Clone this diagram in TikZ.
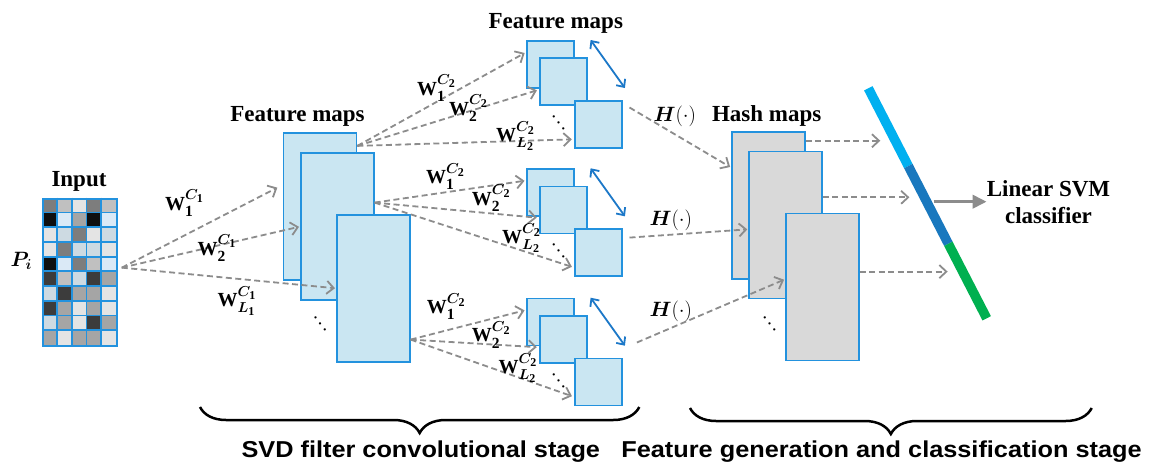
\documentclass[tikz,border=0pt]{standalone}
\usepackage{fontspec}
\setmainfont{Liberation Serif}
\newfontfamily\stagefont[FakeStretch=1.1]{Liberation Sans}
\usepackage{amsmath}
\usepackage{bm}
\usetikzlibrary{arrows.meta,positioning,calc,decorations.pathreplacing}
\DeclareMathSizes{20}{20}{15.5}{12}

\definecolor{mapblue}{RGB}{35,146,222}
\definecolor{mapfill}{RGB}{202,230,242}
\definecolor{hashfill}{RGB}{217,217,217}
\definecolor{arrgray}{RGB}{140,140,140}
\definecolor{twoway}{RGB}{28,120,200}
\definecolor{svmA}{RGB}{0,176,240}
\definecolor{svmB}{RGB}{25,120,190}
\definecolor{svmC}{RGB}{0,176,80}
\definecolor{cell0}{RGB}{15,15,15}
\definecolor{cell1}{RGB}{60,60,60}
\definecolor{cell2}{RGB}{125,125,125}
\definecolor{cell3}{RGB}{165,165,165}
\definecolor{cell4}{RGB}{192,192,192}
\definecolor{cell5}{RGB}{205,218,226}
\definecolor{cell6}{RGB}{228,228,228}
\definecolor{cell7}{RGB}{218,233,246}

\newcommand{\wl}[2]{$\mathbf{W}_{#1}^{\bm{C}_{\mathbf{#2}}}$}

\begin{document}
\begin{tikzpicture}[x=1pt,y=-1pt,
    fmap/.style={draw=mapblue,fill=mapfill,line width=1.6pt,inner sep=0pt,anchor=north west,
                 minimum width=73pt,minimum height=147pt},
    hmap/.style={fmap,fill=hashfill},
    smap/.style={fmap,minimum width=47pt,minimum height=47pt},
    flow/.style={arrgray,line width=1.8pt,dash pattern=on 6pt off 3.5pt,
                 -{Straight Barb[length=7pt,width=13pt]},shorten >=1pt},
    both/.style={twoway,line width=1.8pt,
                 {Straight Barb[length=6pt,width=11pt]}-{Straight Barb[length=6pt,width=11pt]}},
    title/.style={font=\fontsize{23}{26.7}\selectfont\bfseries},
    wlab/.style={anchor=base west,inner sep=0pt,font=\fontsize{20}{20}\selectfont},
    mdots/.style={font=\fontsize{19}{19}\selectfont,rotate=-28,inner sep=0pt},
    stage/.style={anchor=base,font=\stagefont\fontsize{23}{25}\selectfont\bfseries},
    curly/.style={decorate,decoration={brace,mirror,amplitude=26pt},line width=2.5pt}]

\path[fill=white,use as bounding box] (0,0) rectangle (1158,463);

% input patch
\foreach \row [count=\r from 0] in {{2,4,6,2,4},{0,7,3,0,7},{6,5,2,6,5},{6,2,5,5,6},{0,7,2,4,7},
                                    {1,4,5,1,3},{5,1,3,3,6},{1,3,6,3,6},{5,3,6,1,3},{3,6,3,3,6}}
  \foreach \c [count=\k from 0] in \row
    \fill[cell\c] (42+14.8*\k,197.7+14.73*\r) rectangle ++(14.8,14.73);
\foreach \k in {1,...,4}
  \draw[mapblue,line width=1.8pt] (42+14.8*\k,197.7) -- ++(0,147.3);
\foreach \r in {1,...,9}
  \draw[mapblue,line width=1.8pt] (42,197.7+14.73*\r) -- ++(74,0);
\node[draw=mapblue,line width=1.8pt,inner sep=0pt,anchor=north west,
      minimum width=74pt,minimum height=147.3pt] (in) at (42,197.7) {};
\node[title,anchor=base] (intitle) at (79,186.7) {Input};
\node[anchor=base west,inner sep=0pt,font=\fontsize{22}{22}\selectfont] (pin) at (10.5,266) {$\bm{P}_{\bm{i}}$};

% first stage maps
\node[fmap] (f1) at (282.7,132.3) {};
\node[fmap] (f2) at (300,152.3) {};
\node[fmap] (f3) at (336,214) {};
\node[title,anchor=base] (ftitle) at (297.5,121.7) {Feature maps};
\node[mdots] (fdots) at (321.7,321) {$\bm{\ddots}$};

% second stage maps
\foreach \g/\oy in {1/40,2/168.3,3/297.7}{
  \node[smap] (sa\g) at (526,\oy) {};
  \node[smap] (sb\g) at (539.3,\oy+17.3) {};
  \node[smap] (sc\g) at (574.3,\oy+60) {};
  \node[mdots] (sd\g) at (560,\oy+80) {$\bm{\ddots}$};
  \draw[both] ([xshift=16pt]sa\g.north east) -- ([xshift=2pt,yshift=12pt]sc\g.north east);
}
\node[title,anchor=base] (stitle) at (555.8,28.3) {Feature maps};

% hash maps
\node[hmap] (h1) at (731,131) {};
\node[hmap] (h2) at (748.3,150.7) {};
\node[hmap] (h3) at (785,212.7) {};
\node[title,anchor=base] (htitle) at (766.7,121.7) {Hash maps};
\node[mdots] (hdots) at (771,321) {$\bm{\ddots}$};

% input -> first stage
\coordinate (o0) at ([xshift=4pt,yshift=4.6pt]in.east);
\draw[flow,shorten >=6pt] (o0) -- ([yshift=21.7pt]f1.west);
\draw[flow] (o0) -- (f2.west);
\draw[flow] (o0) -- (f3.west);

% first stage -> second stage
\foreach \g/\src/\dy in {1/f1/60.7,2/f2/24,3/f3/-51.3}{
  \coordinate (o\g) at ([yshift=\dy pt]\src.east);
  \draw[flow,shorten >=1.5pt] (o\g) -- ([yshift=12pt]sa\g.west);
  \draw[flow,shorten >=2.5pt] (o\g) -- ([yshift=-8pt]sb\g.west);
  \draw[flow,shorten >=2.5pt] (o\g) -- ([yshift=-15pt]sc\g.west);
}

% hashing
\draw[flow] ([xshift=6.6pt,yshift=16.8pt]sc1.east) -- ([yshift=37.8pt]h1.west);
\draw[flow] ([xshift=6.6pt,yshift=15pt]sc2.east) -- ([yshift=-4.3pt]h2.west);
\draw[flow] ([xshift=14pt,yshift=39.5pt]sc3.east) -- ([yshift=7.7pt]h3.west);

% classifier bar
\coordinate (v0) at (868.3,88.3);
\coordinate (v3) at (986.7,318.3);
\coordinate (v1) at ($(v0)!0.338!(v3)$);
\coordinate (v2) at ($(v0)!0.676!(v3)$);
\draw[svmA,line width=9.5pt] (v0) -- (v1);
\draw[svmB,line width=9.5pt] (v1) -- (v2);
\draw[svmC,line width=9.5pt] (v2) -- (v3);

\foreach \t/\h in {0.228/h1,0.474/h2,0.797/h3}{
  \coordinate (r\h) at ($(v0)!\t!(v3)$);
  \draw[flow,shorten >=15pt] (r\h -| \h.east) -- (r\h);
}

\node[title,align=center,inner sep=0pt] (svm) at (1048.5,202) {Linear SVM\\classifier};
\coordinate (r0) at ($(v0)!0.493!(v3)$);
\draw[arrgray,line width=3.5pt,shorten <=7pt,-{Triangle[length=14pt,width=13pt]}] (r0) -- (r0 -| svm.west);

% labels
\node[wlab] (wc1) at (165,210) {\wl{\mathbf{1}}{1}};
\node[wlab] (wc2) at (197.3,255) {\wl{\mathbf{2}}{1}};
\node[wlab] (wcL) at (217.3,306.7) {\wl{\bm{L}_{\mathbf{1}}}{1}};

\node[wlab] (wa1) at (417,95) {\wl{\mathbf{1}}{2}};
\node[wlab] (wb1) at (449,115) {\wl{\mathbf{2}}{2}};
\node[wlab] (wl1) at (496,141.7) {\wl{\bm{L}_{\mathbf{2}}}{2}};
\node[wlab] (wa2) at (426,183.3) {\wl{\mathbf{1}}{2}};
\node[wlab] (wb2) at (471.7,205) {\wl{\mathbf{2}}{2}};
\node[wlab] (wl2) at (502,243.3) {\wl{\bm{L}_{\mathbf{2}}}{2}};
\node[wlab] (wa3) at (426.7,313.3) {\wl{\mathbf{1}}{2}};
\node[wlab] (wb3) at (471.7,341.7) {\wl{\mathbf{2}}{2}};
\node[wlab] (wl3) at (498.3,373.3) {\wl{\bm{L}_{\mathbf{2}}}{2}};

\node[wlab] (hl1) at (653.3,121.7) {$\bm{H}(\cdot)$};
\node[wlab] (hl2) at (649.3,225) {$\bm{H}(\cdot)$};
\node[wlab] (hl3) at (649.3,316.7) {$\bm{H}(\cdot)$};

% stages
\coordinate (ba) at (200,407);
\coordinate (bb) at (639.3,407);
\coordinate (bc) at (690,408);
\coordinate (bd) at (1091.7,408);
\draw[curly] (ba) -- (bb);
\draw[curly] (bc) -- (bd);
\node[stage] (st1) at (420.8,457) {SVD filter convolutional stage};
\node[stage] (st2) at (881.5,457) {Feature generation and classification stage};
\end{tikzpicture}
\end{document}
